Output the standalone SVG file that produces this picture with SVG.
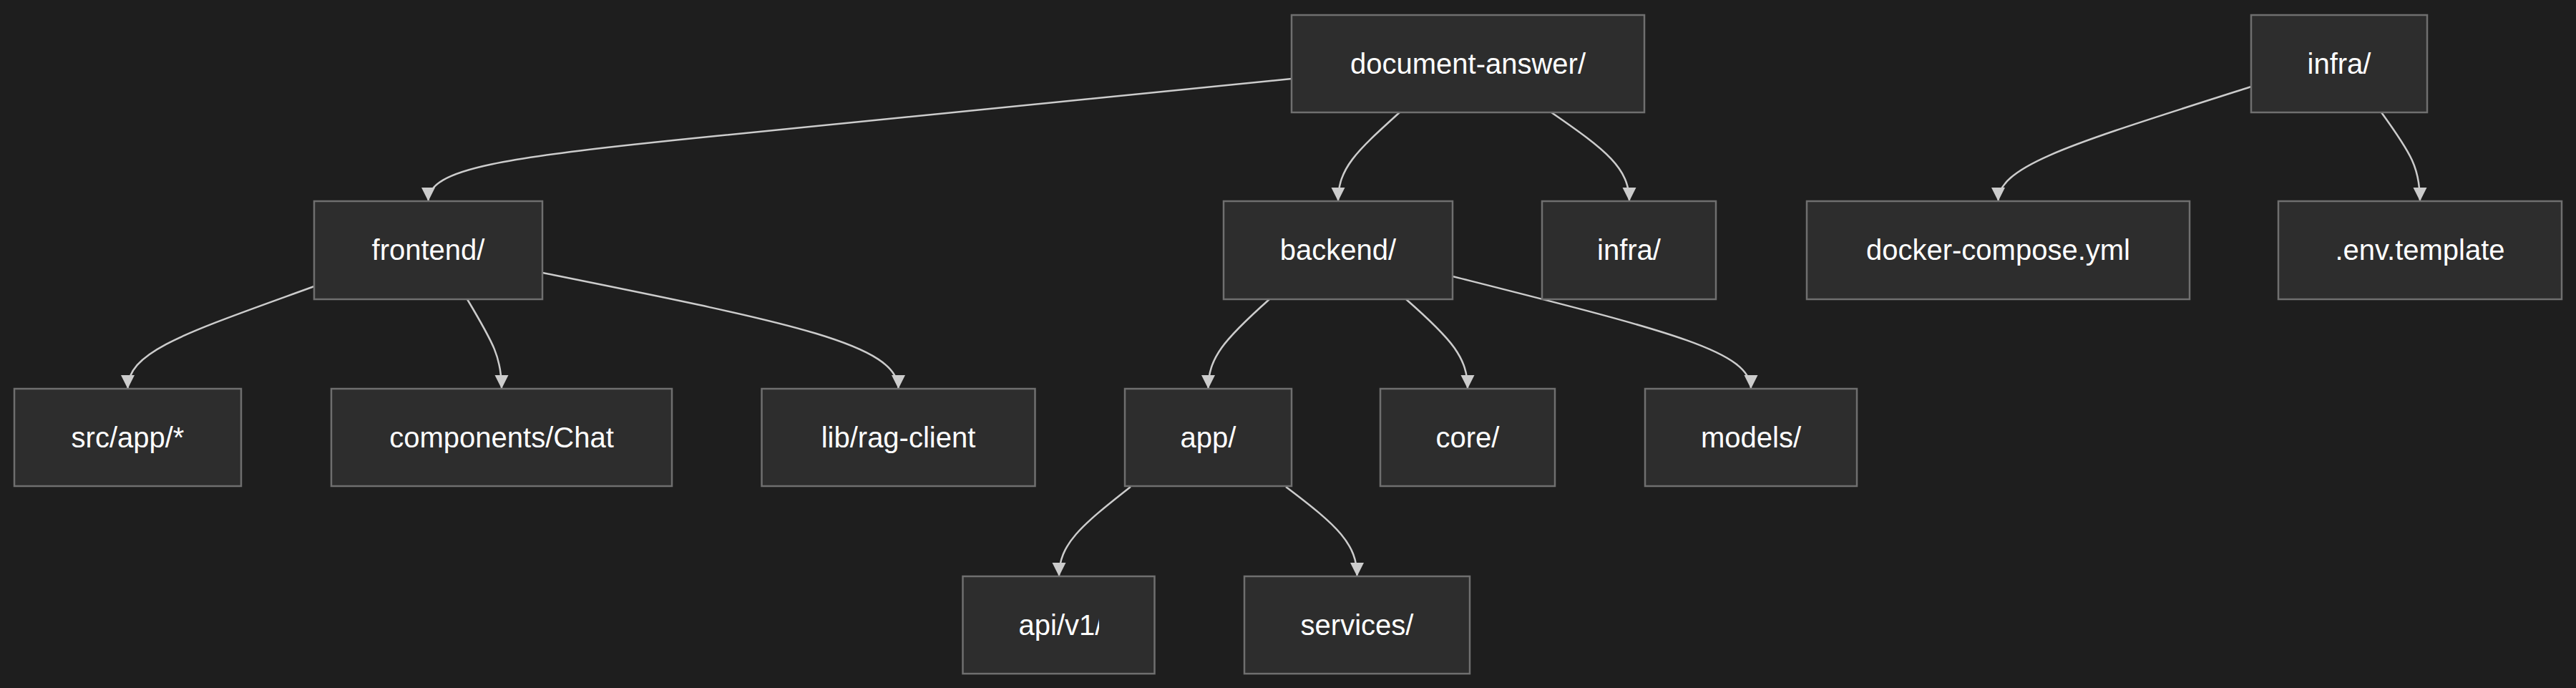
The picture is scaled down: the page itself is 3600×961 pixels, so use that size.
<svg xmlns="http://www.w3.org/2000/svg" width="3600" height="961" viewBox="0 0 3600 961">
<style>
.bg{fill:#1e1e1e}
.node rect{fill:#2d2d2d;stroke:#6f6f6f;stroke-width:2.5}
.node text{fill:#ffffff;font-family:"Liberation Sans",Arial,sans-serif;font-size:40px;text-anchor:middle}
.edge{fill:none;stroke:#cccccc;stroke-width:2.5;marker-end:url(#arrow)}
</style>
<defs>
<marker id="arrow" viewBox="0 0 10 10" refX="10" refY="5" markerUnits="userSpaceOnUse" markerWidth="19" markerHeight="20" orient="auto">
<path d="M0,0 L10,5 L0,10 z" fill="#cccccc"/>
</marker>
<clipPath id="clipApi"><rect x="1345" y="805" width="191" height="136"/></clipPath>
</defs>
<rect class="bg" x="0" y="0" width="3600" height="961"/>
<g id="connectors">
<path class="edge" d="M1805,110 L1000,190 C700,220 598.5,235 598.5,281"/>
<path class="edge" d="M1956,157 C1895,212 1870,235 1870,281"/>
<path class="edge" d="M2168,157 C2245,210 2277,235 2277,281"/>
<path class="edge" d="M3146,121 C2900,200 2792.5,230 2792.5,281"/>
<path class="edge" d="M3328,157 C3370,215 3382,235 3382,281"/>
<path class="edge" d="M439,400 C260,465 178.5,490 178.5,543"/>
<path class="edge" d="M653,418 C690,480 701,500 701,543"/>
<path class="edge" d="M758,381 C1100,450 1255.5,480 1255.5,543"/>
<path class="edge" d="M1774,418 C1710,475 1688.5,500 1688.5,543"/>
<path class="edge" d="M1965,418 C2030,475 2051,500 2051,543"/>
<path class="edge" d="M2030,386 C2330,462 2447,490 2447,543"/>
<path class="edge" d="M1580,680 C1510,735 1480,760 1480,805"/>
<path class="edge" d="M1797,680 C1870,735 1896.5,760 1896.5,805"/>
</g>
<g id="node-document-answer" class="node"><rect x="1805" y="21" width="493" height="136"/><text x="2051.5" y="103">document-answer/</text></g>
<g id="node-infra-root" class="node"><rect x="3146" y="21" width="246" height="136"/><text x="3269" y="103">infra/</text></g>
<g id="node-frontend" class="node"><rect x="439" y="281" width="319" height="137"/><text x="598.5" y="363">frontend/</text></g>
<g id="node-backend" class="node"><rect x="1710" y="281" width="320" height="137"/><text x="1870" y="363">backend/</text></g>
<g id="node-infra" class="node"><rect x="2155" y="281" width="243" height="137"/><text x="2276.5" y="363">infra/</text></g>
<g id="node-docker-compose" class="node"><rect x="2525" y="281" width="535" height="137"/><text x="2792.5" y="363">docker-compose.yml</text></g>
<g id="node-env-template" class="node"><rect x="3184" y="281" width="396" height="137"/><text x="3382" y="363">.env.template</text></g>
<g id="node-src-app" class="node"><rect x="20" y="543" width="317" height="136"/><text x="178.5" y="625">src/app/*</text></g>
<g id="node-components-chat" class="node"><rect x="463" y="543" width="476" height="136"/><text x="701" y="625">components/Chat</text></g>
<g id="node-lib-rag-client" class="node"><rect x="1064.5" y="543" width="382" height="136"/><text x="1255.5" y="625">lib/rag-client</text></g>
<g id="node-app" class="node"><rect x="1572" y="543" width="233" height="136"/><text x="1688.5" y="625">app/</text></g>
<g id="node-core" class="node"><rect x="1929" y="543" width="244" height="136"/><text x="2051" y="625">core/</text></g>
<g id="node-models" class="node"><rect x="2299" y="543" width="296" height="136"/><text x="2447" y="625">models/</text></g>
<g id="node-api-v1" class="node"><rect x="1345.5" y="805" width="268" height="136"/><text x="1482.5" y="887" clip-path="url(#clipApi)">api/v1/</text></g>
<g id="node-services" class="node"><rect x="1739" y="805" width="315" height="136"/><text x="1896.5" y="887">services/</text></g>
</svg>
